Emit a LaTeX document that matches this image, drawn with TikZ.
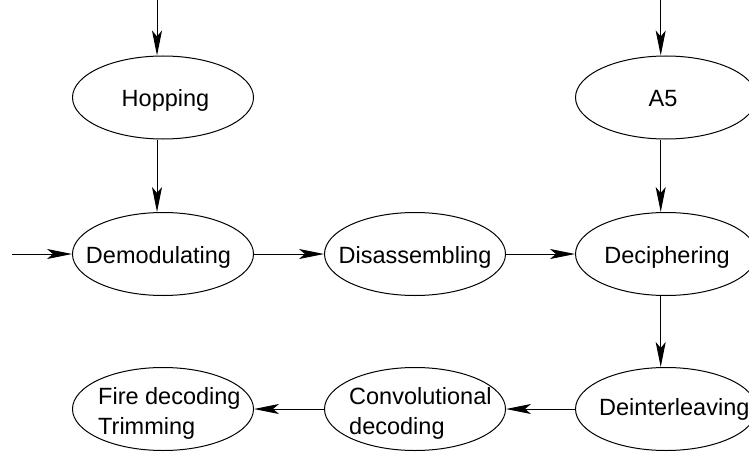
\documentclass[tikz,border=0pt]{standalone}
\usepackage{fontspec}
\setmainfont{Liberation Sans}
\usetikzlibrary{arrows.meta, shapes.geometric}

\tikzset{
  stage/.style={draw, ellipse, line width=1pt, minimum width=181pt, minimum height=83pt, inner sep=0pt},
  stagetext/.style={font=\fontsize{23.5}{30}\selectfont, align=left, inner sep=0pt},
  flow/.style={-{Stealth[length=25pt, width=10pt, inset=6pt]}, line width=1pt},
}

\begin{document}
\begin{tikzpicture}[x=1pt, y=-1pt]
  \clip (0,0) rectangle (749,452);

  % Stages
  \node[stage] (hop)   at (163,97.5) {};
  \node[stage] (afive) at (666,97.5) {};
  \node[stage] (demod) at (163,254) {};
  \node[stage] (disas) at (415,254) {};
  \node[stage] (decip) at (666,254) {};
  \node[stage] (fire)  at (163,409) {};
  \node[stage] (conv)  at (415,409) {};
  \node[stage] (deint) at (666,409) {};

  % Stage texts
  \node[stagetext, anchor=base] (hoptxt)   at (165.5,106) {Hopping};
  \node[stagetext, anchor=base] (afivetxt) at (663,106) {A5};
  \node[stagetext, anchor=base] (demodtxt) at (158.5,263) {Demodulating};
  \node[stagetext, anchor=base] (disastxt) at (415,263) {Disassembling};
  \node[stagetext, anchor=base] (deciptxt) at (667,263) {Deciphering};
  \node[stagetext, anchor=north west] (firetxt) at (98,387) {Fire decoding\\Trimming};
  \node[stagetext, anchor=north west] (convtxt) at (349,387) {Convolutional\\decoding};
  \node[stagetext, anchor=base west] (deinttxt) at (599,415) {Deinterleaving};

  % Inputs
  \coordinate (inhop) at (157,0);
  \coordinate (inafive) at (660.7,0);
  \coordinate (inleft) at (12,254);

  % Flow
  \draw[flow] (inhop) -- (inhop |- hop.north);
  \draw[flow] (hop.south -| inhop) -- (demod.north -| inhop);
  \draw[flow] (inafive) -- (inafive |- afive.north);
  \draw[flow] (afive.south -| inafive) -- (decip.north -| inafive);
  \draw[flow] (inleft) -- (demod.west);
  \draw[flow] (demod.east) -- (disas.west);
  \draw[flow] (disas.east) -- (decip.west);
  \draw[flow] (decip.south -| inafive) -- (deint.north -| inafive);
  \draw[flow] (deint.west) -- (conv.east);
  \draw[flow] (conv.west) -- (fire.east);
\end{tikzpicture}
\end{document}
